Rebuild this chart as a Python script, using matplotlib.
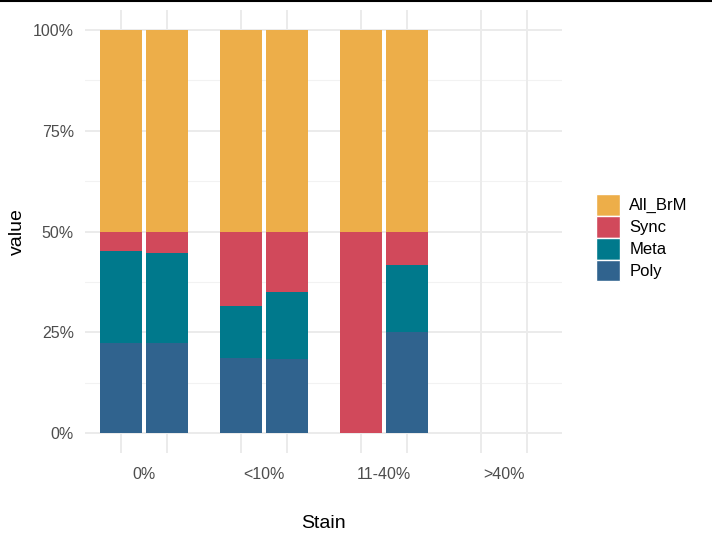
import numpy as np
import matplotlib
matplotlib.use("Agg")
from matplotlib import pyplot as plt
from matplotlib.patches import Patch
from matplotlib.lines import Line2D

plt.rcParams['font.family'] = ['Liberation Sans', 'DejaVu Sans']

# data
stains = ['0%', '<10%', '11-40%', '>40%']
types = ['Poly', 'Meta', 'Sync', 'All_BrM']
colors = {'Poly': '#30638E', 'Meta': '#00798C', 'Sync': '#D1495B', 'All_BrM': '#EDAE49'}

# left bar of each pair (percent)
poly_a = [22.4, 18.6, 0.0, 0.0]
meta_a = [22.7, 12.8, 0.0, 0.0]
sync_a = [4.9, 18.6, 50.0, 0.0]
brm_a = [50.0, 50.0, 50.0, 0.0]
# right bar of each pair (percent)
poly_b = [22.3, 18.4, 25.0, 0.0]
meta_b = [22.3, 16.5, 16.7, 0.0]
sync_b = [5.4, 15.1, 8.3, 0.0]
brm_b = [50.0, 50.0, 50.0, 0.0]

fig = plt.figure(figsize=(7.12, 5.46), dpi=100)
W, H = 712, 546
ax = fig.add_axes([85 / W, (H - 453) / H, (562 - 85) / W, (453 - 10) / H])

x = np.arange(len(stains))
off = 0.19
width = 0.35
grid_col = '#EBEBEB'

# grid
for y in [12.5, 37.5, 62.5, 87.5]:
    ax.axhline(y, color='#F2F2F2', lw=0.8, zorder=0)
for y in [0, 25, 50, 75, 100]:
    ax.axhline(y, color=grid_col, lw=1.4, zorder=0)
for xi in x:
    ax.axvline(xi - off, color=grid_col, lw=1.4, zorder=0)
    ax.axvline(xi + off, color=grid_col, lw=1.4, zorder=0)

for pos, vals in [(x - off, [poly_a, meta_a, sync_a, brm_a]),
                  (x + off, [poly_b, meta_b, sync_b, brm_b])]:
    bottom = np.zeros(len(stains))
    for t, v in zip(types, vals):
        v = np.array(v)
        ax.bar(pos, v, width=width, bottom=bottom, color=colors[t], lw=0, zorder=2)
        bottom += v

ax.set_xlim(-0.49, 3.48)
ax.set_ylim(-5, 105)
ax.set_xticks(x)
ax.set_xticklabels(stains)
ax.set_yticks([0, 25, 50, 75, 100])
ax.set_yticklabels(['0%', '25%', '50%', '75%', '100%'])
ax.tick_params(length=0, labelsize=11.5, colors='#4D4D4D', pad=8)
ax.tick_params(axis='x', pad=10)
for s in ax.spines.values():
    s.set_visible(False)
ax.set_xlabel('Stain', fontsize=14, labelpad=24)
ax.set_ylabel('value', fontsize=14, labelpad=5)

handles = [Patch(facecolor=colors[t], edgecolor='white', lw=1) for t in types[::-1]]
ax.legend(handles, types[::-1], loc='center left', bbox_to_anchor=(1.071, 0.486),
          frameon=False, fontsize=12, handlelength=1.45, handleheight=1.62,
          labelspacing=0.02, handletextpad=0.55, borderaxespad=0, borderpad=0)

fig.add_artist(Line2D([0, 1], [0.999, 0.999], color='black', lw=1.5, transform=fig.transFigure))

fig.savefig('out.png', dpi=100)
